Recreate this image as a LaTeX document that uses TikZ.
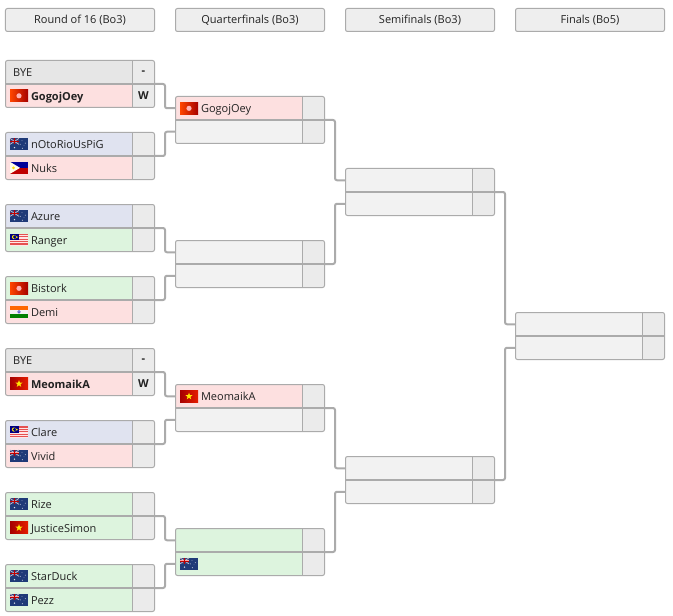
\documentclass[tikz,border=0pt]{standalone}
\usepackage{fontspec}
\setmainfont{Open Sans}
\definecolor{edge}{HTML}{ABABAB}
\definecolor{headbg}{HTML}{EEEEEE}
\definecolor{emptybg}{HTML}{F2F2F2}
\definecolor{scorebg}{HTML}{EBEBEB}
\definecolor{byebg}{HTML}{E6E6E6}
\definecolor{pinkbg}{HTML}{FDE0E0}
\definecolor{greenbg}{HTML}{DDF4DE}
\definecolor{bluebg}{HTML}{E0E3F0}
\definecolor{ink}{HTML}{222222}
\definecolor{aunavy}{HTML}{1F3A78}
\definecolor{aucanton}{HTML}{3A3F78}
\tikzset{
  framebox/.style={draw=edge,line width=1bp,rounded corners=2bp,anchor=north west,minimum width=149bp,minimum height=47bp,inner sep=0,outer sep=0},
  headbox/.style={draw=edge,line width=1bp,rounded corners=2bp,fill=headbg,minimum width=149bp,minimum height=23bp,inner sep=0,outer sep=0,text=ink,font=\fontsize{11bp}{12bp}\selectfont},
  rowbox/.style={anchor=north west,minimum width=127bp,minimum height=23.5bp,inner sep=0,outer sep=0},
  scorebox/.style={anchor=north west,fill=scorebg,minimum width=22bp,minimum height=23.5bp,inner sep=0,outer sep=0,text=ink,font=\fontsize{11bp}{12bp}\selectfont\bfseries},
  nametext/.style={anchor=base west,inner sep=0,outer sep=0,text=ink,font=\fontsize{11bp}{13bp}\selectfont},
  link/.style={draw=edge,line width=2bp,rounded corners=2bp},
  midline/.style={draw=edge,line width=2bp},
  subline/.style={draw=edge,line width=1bp},
  pics/flaghk/.style={code={
    \shade[left color=orange!55!red,right color=red!65!black] (-9,-6) rectangle (9,6);
    \fill[white!70!red] (0,0) circle (2.6);
  }},
  pics/flagvn/.style={code={
    \shade[left color=red!65!black,right color=red!75!orange!90!black] (-9,-6) rectangle (9,6);
    \fill[yellow!90!orange] (0,-3.8) -- (0.9,-1.2) -- (3.6,-1.2) -- (1.45,0.45) -- (2.2,3) -- (0,1.4) -- (-2.2,3) -- (-1.45,0.45) -- (-3.6,-1.2) -- (-0.9,-1.2) -- cycle;
  }},
  pics/flagau/.style={code={
    \fill[aunavy] (-9,-6) rectangle (9,6);
    \fill[aucanton] (-9,-6) rectangle (0,0);
    \draw[white!70!aunavy,line width=0.7bp] (-9,-6) -- (0,0) (-9,0) -- (0,-6);
    \draw[white!65!red,line width=1.4bp] (-4.5,-6) -- (-4.5,0) (-9,-3) -- (0,-3);
    \draw[red!75!black,line width=0.7bp] (-4.5,-6) -- (-4.5,0) (-9,-3) -- (0,-3);
    \fill[white!85!aunavy] (-4.5,3.3) circle (0.8) (3,-3.6) circle (0.45) (6.3,-1.2) circle (0.45) (1.2,0) circle (0.45) (3.4,3.9) circle (0.55) (5,1) circle (0.3);
  }},
  pics/flagph/.style={code={
    \fill[blue!60!black] (-9,-6) rectangle (9,0);
    \fill[red!75!black] (-9,0) rectangle (9,6);
    \fill[white!92!yellow] (-9,-6) -- (1,0) -- (-9,6) -- cycle;
    \fill[yellow!80!orange] (-5.5,0) circle (1.5);
  }},
  pics/flagmy/.style={code={
    \fill[white!90!red] (-9,-6) rectangle (9,6);
    \foreach \r in {-6,-3.6,-1.2,1.2,3.6} \fill[red!65!white!90!black] (-9,\r) rectangle (9,\r+1.2);
    \fill[blue!50!black] (-9,-6) rectangle (0,0.4);
    \fill[yellow!90!orange] (-5,-2.8) circle (2.1);
    \fill[blue!50!black] (-4.3,-2.8) circle (1.8);
    \fill[yellow!90!orange] (-2.2,-2.8) circle (1);
  }},
  pics/flagin/.style={code={
    \fill[orange!80!red] (-9,-6) rectangle (9,-2);
    \fill[white!95!black] (-9,-2) rectangle (9,2);
    \fill[green!50!black] (-9,2) rectangle (9,6);
    \fill[blue!50!gray] (0,0) circle (1.7);
    \fill[white!80!blue] (0,0) circle (0.7);
  }},
}
% id, x, top y, fill, flag, text, score
\newcommand{\entryrow}[7]{%
  \node[rowbox,fill=#4] (#1) at (#2,#3) {};
  \node[scorebox] (#1s) at ($(#2,#3)+(127,0)$) {#7};
  \def\myflag{#5}%
  \ifx\myflag\empty
    \node[nametext] (#1t) at ($(#1.west)+(7.5,\basenudge)$) {#6};
  \else
    \pic at ($(#1.west)+(13.5,0.1)$) {flag#5};
    \node[nametext] (#1t) at ($(#1.west)+(25.5,\basenudge)$) {#6};
  \fi
  \def\basenudge{4.5}%
}
% id, x, y, body
\newcommand{\matchbox}[4]{%
  \begin{scope}
    \def\basenudge{3.8}%
    \clip[rounded corners=2bp] (#2,#3) rectangle ($(#2,#3)+(149,47)$);
    #4
  \end{scope}
  \node[framebox] (#1) at (#2,#3) {};
  \draw[subline] ($(#2,#3)+(127,0)$) -- ($(#2,#3)+(127,47)$);
  \draw[midline] (#1.west) -- (#1.east);
}
\usetikzlibrary{calc}
\begin{document}
\begin{tikzpicture}[x=1bp,y=-1bp]
\useasboundingbox (0,0) rectangle (673,616);
\fill[white] (0,0) rectangle (673,616);
% headers
\node[headbox] (h1) at (80,20) {Round of 16 (Bo3)};
\node[headbox] (h2) at (250,20) {Quarterfinals (Bo3)};
\node[headbox] (h3) at (420,20) {Semifinals (Bo3)};
\node[headbox] (h4) at (590,20) {Finals (Bo5)};
% round of 16
\matchbox{ra}{5.5}{60.5}{
  \entryrow{raa}{5.5}{60.5}{byebg}{}{BYE}{\raisebox{-1bp}{-}}
  \entryrow{rab}{5.5}{84}{pinkbg}{hk}{\textbf{GogojOey}}{W}}
\matchbox{rb}{5.5}{132.5}{
  \entryrow{rba}{5.5}{132.5}{bluebg}{au}{nOtoRioUsPiG}{}
  \entryrow{rbb}{5.5}{156}{pinkbg}{ph}{Nuks}{}}
\matchbox{rc}{5.5}{204.5}{
  \entryrow{rca}{5.5}{204.5}{bluebg}{au}{Azure}{}
  \entryrow{rcb}{5.5}{228}{greenbg}{my}{Ranger}{}}
\matchbox{rd}{5.5}{276.5}{
  \entryrow{rda}{5.5}{276.5}{greenbg}{hk}{Bistork}{}
  \entryrow{rdb}{5.5}{300}{pinkbg}{in}{Demi}{}}
\matchbox{re}{5.5}{348.5}{
  \entryrow{rea}{5.5}{348.5}{byebg}{}{BYE}{\raisebox{-1bp}{-}}
  \entryrow{reb}{5.5}{372}{pinkbg}{vn}{\textbf{MeomaikA}}{W}}
\matchbox{rf}{5.5}{420.5}{
  \entryrow{rfa}{5.5}{420.5}{bluebg}{my}{Clare}{}
  \entryrow{rfb}{5.5}{444}{pinkbg}{au}{Vivid}{}}
\matchbox{rg}{5.5}{492.5}{
  \entryrow{rga}{5.5}{492.5}{greenbg}{au}{Rize}{}
  \entryrow{rgb}{5.5}{516}{greenbg}{vn}{JusticeSimon}{}}
\matchbox{rh}{5.5}{564.5}{
  \entryrow{rha}{5.5}{564.5}{greenbg}{au}{StarDuck}{}
  \entryrow{rhb}{5.5}{588}{greenbg}{au}{Pezz}{}}
% quarterfinals
\matchbox{qa}{175.5}{96.5}{
  \entryrow{qaa}{175.5}{96.5}{pinkbg}{hk}{GogojOey}{}
  \entryrow{qab}{175.5}{120}{emptybg}{}{}{}}
\matchbox{qb}{175.5}{240.5}{
  \entryrow{qba}{175.5}{240.5}{emptybg}{}{}{}
  \entryrow{qbb}{175.5}{264}{emptybg}{}{}{}}
\matchbox{qc}{175.5}{384.5}{
  \entryrow{qca}{175.5}{384.5}{pinkbg}{vn}{MeomaikA}{}
  \entryrow{qcb}{175.5}{408}{emptybg}{}{}{}}
\matchbox{qd}{175.5}{528.5}{
  \entryrow{qda}{175.5}{528.5}{greenbg}{}{}{}
  \entryrow{qdb}{175.5}{552}{greenbg}{au}{}{}}
% semifinals
\matchbox{sa}{345.5}{168.5}{
  \entryrow{saa}{345.5}{168.5}{emptybg}{}{}{}
  \entryrow{sab}{345.5}{192}{emptybg}{}{}{}}
\matchbox{sb}{345.5}{456.5}{
  \entryrow{sba}{345.5}{456.5}{emptybg}{}{}{}
  \entryrow{sbb}{345.5}{480}{emptybg}{}{}{}}
% final
\matchbox{fa}{515.5}{312.5}{
  \entryrow{faa}{515.5}{312.5}{emptybg}{}{}{}
  \entryrow{fab}{515.5}{336}{emptybg}{}{}{}}
% connectors
\foreach \a/\b in {ra/qaa,rb/qab,rc/qba,rd/qbb,re/qca,rf/qcb,rg/qda,rh/qdb,qa/saa,qb/sab,qc/sba,qd/sbb,sa/faa,sb/fab}
  \draw[link] (\a.east) -- ++(10.5,0) |- (\b.west);
\end{tikzpicture}
\end{document}
